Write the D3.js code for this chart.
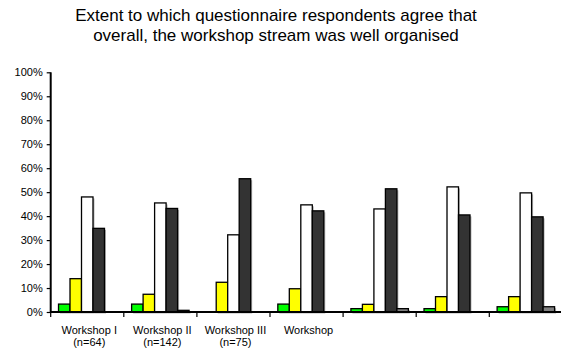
<!DOCTYPE html>
<html>
<head>
<meta charset="utf-8">
<script src="https://cdn.jsdelivr.net/npm/d3@7"></script>
<style>
  html, body { margin: 0; padding: 0; background: #fff; }
  svg { display: block; }
  text { font-family: "Liberation Sans", Arial, sans-serif; fill: #000; }
</style>
</head>
<body>
<svg id="chart" width="561" height="354"></svg>
<script>
// Workshop groups (two-line labels; later groups carry no label)
const groups = ["W1", "W2", "W3", "W4", "W5", "W6", "W7"];
const groupLabels = [
  ["Workshop I", "(n=64)"],
  ["Workshop II", "(n=142)"],
  ["Workshop III", "(n=75)"],
  ["Workshop", ""],
  ["", ""],
  ["", ""],
  ["", ""]
];

// Response categories, in bar order within each group
const series = ["Strongly disagree", "Disagree", "Agree", "Strongly agree", "No response"];
const seriesColors = ["#00ff00", "#ffff00", "#ffffff", "#333333", "#808080"];

// Percentage of respondents, one array per response category (by group)
const stronglyDisagree = [3.3, 3.3, 0.0, 3.3, 1.4, 1.4, 2.2];
const disagree         = [13.9, 7.4, 12.4, 9.7, 3.2, 6.4, 6.4];
const agree            = [48.0, 45.5, 32.2, 44.7, 43.0, 52.2, 49.7];
const stronglyAgree    = [34.9, 43.2, 55.6, 42.2, 51.4, 40.5, 39.7];
const noResponse       = [0.0, 0.7, 0.0, 0.0, 1.4, 0.0, 2.2];
const seriesValues = [stronglyDisagree, disagree, agree, stronglyAgree, noResponse];

const yTicks = [0, 10, 20, 30, 40, 50, 60, 70, 80, 90, 100];

const titleLines = [
  "Extent to which questionnaire respondents agree that",
  "overall, the workshop stream was well organised"
];

const svg = d3.select("#chart");
const plot = { left: 50.7, right: 562.4, top: 72.3, bottom: 312 };

const x0 = d3.scaleBand().domain(groups).range([plot.left, plot.right]).padding(0);
const x1 = d3.scaleBand().domain(series).range([0, x0.bandwidth()])
  .paddingInner(0).paddingOuter(0.68);
const y = d3.scaleLinear().domain([0, 100]).range([plot.bottom, plot.top]);

// Title
svg.append("text")
  .attr("x", 276).attr("y", 21)
  .attr("text-anchor", "middle")
  .style("font-size", "17px")
  .selectAll("tspan").data(titleLines).join("tspan")
  .attr("x", 276).attr("dy", (d, i) => i === 0 ? 0 : 20)
  .text(d => d);

// Bars
const rows = groups.map((g, gi) => series.map((s, si) => ({
  group: g, series: s, value: seriesValues[si][gi], color: seriesColors[si]
})));

const gGroups = svg.append("g").selectAll("g").data(rows).join("g")
  .attr("transform", d => `translate(${x0(d[0].group)},0)`);

// soft shadow behind each bar
gGroups.selectAll("rect.shadow").data(d => d.filter(b => b.value > 0)).join("rect")
  .attr("class", "shadow")
  .attr("x", d => x1(d.series) + 1.5)
  .attr("y", d => y(d.value) + 1.5)
  .attr("width", x1.bandwidth())
  .attr("height", d => plot.bottom - y(d.value))
  .attr("fill", "#b4b4b4");

gGroups.selectAll("rect.bar").data(d => d.filter(b => b.value > 0)).join("rect")
  .attr("class", "bar")
  .attr("x", d => x1(d.series))
  .attr("y", d => y(d.value))
  .attr("width", x1.bandwidth())
  .attr("height", d => plot.bottom - y(d.value))
  .attr("fill", d => d.color)
  .attr("stroke", "#000")
  .attr("stroke-width", 1.3);

// Y axis
const yAxis = d3.axisLeft(y).tickValues(yTicks).tickFormat(d => d + "%")
  .tickSize(4).tickPadding(4);
const gy = svg.append("g").attr("transform", `translate(${plot.left},0)`).call(yAxis);
gy.select(".domain").attr("stroke", "#000").attr("stroke-width", 2)
  .attr("d", `M0,${plot.top}V${plot.bottom}`);
gy.selectAll(".tick line").attr("stroke", "#000").attr("stroke-width", 1.2);
gy.selectAll(".tick text").style("font-size", "11px").style("font-family", "'Liberation Sans', Arial, sans-serif").attr("fill", "#000");

// X axis: baseline with ticks at group boundaries
const gx = svg.append("g");
gx.append("line")
  .attr("x1", plot.left).attr("x2", plot.right)
  .attr("y1", plot.bottom).attr("y2", plot.bottom)
  .attr("stroke", "#000").attr("stroke-width", 2);
const boundaries = groups.map(g => x0(g)).concat([plot.right]);
gx.selectAll("line.tick").data(boundaries).join("line")
  .attr("class", "tick")
  .attr("x1", d => d).attr("x2", d => d)
  .attr("y1", plot.bottom).attr("y2", plot.bottom + 5)
  .attr("stroke", "#000").attr("stroke-width", 1.2);

const lbl = gx.selectAll("text").data(groups).join("text")
  .attr("text-anchor", "middle")
  .style("font-size", "11px");
lbl.each(function(g, i) {
  const cx = x0(g) + x0.bandwidth() / 2 + 2;
  d3.select(this).selectAll("tspan").data(groupLabels[i]).join("tspan")
    .attr("x", cx).attr("y", (d, j) => 334 + j * 12)
    .text(d => d);
});
</script>
</body>
</html>
